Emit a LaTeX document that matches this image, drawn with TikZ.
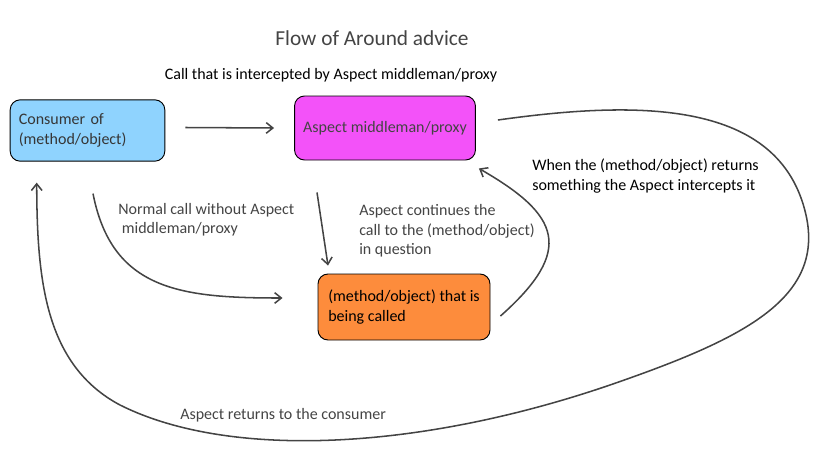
\documentclass[tikz,border=0pt]{standalone}
\usepackage{fontspec}
\setmainfont{Carlito}
\usetikzlibrary{arrows.meta,positioning,calc}
\definecolor{consumerblue}{HTML}{8FD3FE}
\definecolor{proxypink}{HTML}{F352F9}
\definecolor{calledorange}{HTML}{FD8C3C}
\definecolor{inkgray}{HTML}{444444}
\tikzset{
    box/.style={draw=black, line width=0.7pt, rounded corners=7.5pt, inner xsep=6.5pt, inner ysep=4pt, font=\fontsize{12}{15}\selectfont},
    flow/.style={-{Straight Barb[length=5pt, width=8pt]}, line width=1.15pt, inkgray},
    note/.style={anchor=west, align=left, inner sep=0pt, font=\fontsize{12}{14.5}\selectfont}
}

\begin{document}
\begin{tikzpicture}[x=0.75pt, y=-0.75pt]
\useasboundingbox (0,0) rectangle (823,461);

% heading
\node[inkgray, font=\fontsize{16}{19}\selectfont] (title) at (372,38) {Flow of Around advice};
\node[font=\fontsize{12}{14}\selectfont] (intercept) at (331,75) {Call that is intercepted by Aspect middleman/proxy};

% boxes
\node[box, fill=consumerblue, text=inkgray!80!black, minimum width=116pt, minimum height=46pt, text width=103pt, align=left] (consumer) at (87.5,130.5) {Consumer of\\(method/object)};
\node[box, fill=proxypink, text=inkgray, minimum width=135pt, minimum height=48pt] (aspect) at (385,128) {Aspect middleman/proxy};
\node[box, fill=calledorange, minimum width=129pt, minimum height=49.5pt, align=left] (called) at (404,307) {(method/object) that is\\being called};

% connectors
\draw[flow] ($(consumer.east)+(20,-3)$) -- ($(aspect.west)+(-20,0)$);
\draw[flow] ($(aspect.south)+(-68,32)$) -- ($(called.north)+(-76,-8)$);
\draw[flow] ($(consumer.south)+(5.5,32)$) .. controls (112,290) and (180,298) .. ($(called.west)+(-35,-9)$);
\draw[flow] ($(called.east)+(10,9)$) .. controls (575,250) and (560,215) .. ($(aspect.south east)+(3,8)$);
\draw[flow] ($(aspect.east)+(22,-8)$) .. controls (640,100) and (780,100) .. (806,215)
    .. controls (825,300) and (740,340) .. (610,385)
    .. controls (420,450) and (230,460) .. (120,405)
    .. controls (45,365) and (37,280) .. ($(consumer.south west)+(27,21)$);

% labels
\node[note, inkgray] (normallbl) at (118,219.5) {Normal call without Aspect\\\ middleman/proxy};
\node[note, inkgray] (continuelbl) at (359,231) {Aspect continues the\\call to the (method/object)\\in question};
\node[note] (returnlbl) at (532,176) {When the (method/object) returns\\something the Aspect intercepts it};
\node[note, inkgray] (consumerlbl) at (180,415) {Aspect returns to the consumer};
\end{tikzpicture}
\end{document}
